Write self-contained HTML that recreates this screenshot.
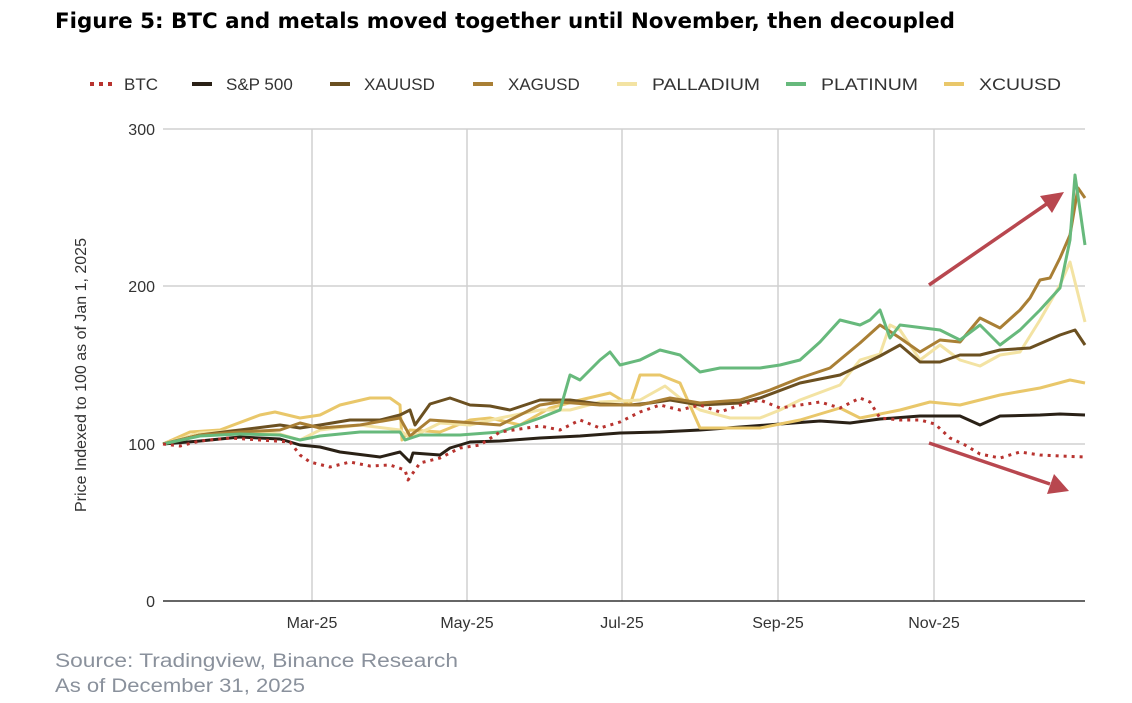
<!DOCTYPE html>
<html><head><meta charset="utf-8"><style>
body{margin:0;background:#fff;width:1132px;height:698px;overflow:hidden;font-family:"Liberation Sans",sans-serif;}
</style></head><body>
<svg width="1132" height="698" xmlns="http://www.w3.org/2000/svg" font-family="Liberation Sans, sans-serif">
<text x="55" y="28" font-size="21" font-weight="bold" fill="#000" font-family="DejaVu Sans, sans-serif" textLength="900" lengthAdjust="spacingAndGlyphs">Figure 5: BTC and metals moved together until November, then decoupled</text>
<g font-size="17" fill="#333">
<line x1="90" y1="84" x2="112" y2="84" stroke="#b8332f" stroke-width="4" stroke-dasharray="4,5"/><text x="124" y="90">BTC</text>
<line x1="192" y1="84" x2="212" y2="84" stroke="#2a2116" stroke-width="4"/><text x="226" y="90">S&amp;P 500</text>
<line x1="330" y1="84" x2="350" y2="84" stroke="#6b5021" stroke-width="4"/><text x="364" y="90">XAUUSD</text>
<line x1="473" y1="84" x2="493" y2="84" stroke="#a97f35" stroke-width="4"/><text x="508" y="90">XAGUSD</text>
<line x1="617" y1="84" x2="637" y2="84" stroke="#f3e3a3" stroke-width="4"/><text x="652" y="90" textLength="108" lengthAdjust="spacingAndGlyphs">PALLADIUM</text>
<line x1="786" y1="84" x2="806" y2="84" stroke="#67b97c" stroke-width="4"/><text x="821" y="90" textLength="97" lengthAdjust="spacingAndGlyphs">PLATINUM</text>
<line x1="944" y1="84" x2="964" y2="84" stroke="#e9c76a" stroke-width="4"/><text x="979" y="90" textLength="82" lengthAdjust="spacingAndGlyphs">XCUUSD</text>
</g>
<g stroke="#d0d0d0" stroke-width="1.5">
<line x1="163" y1="129" x2="1085" y2="129"/><line x1="163" y1="286" x2="1085" y2="286"/><line x1="163" y1="444" x2="1085" y2="444"/>
<line x1="312" y1="129" x2="312" y2="601"/><line x1="467" y1="129" x2="467" y2="601"/><line x1="622" y1="129" x2="622" y2="601"/><line x1="778" y1="129" x2="778" y2="601"/><line x1="934" y1="129" x2="934" y2="601"/>
</g>
<line x1="163" y1="601" x2="1085" y2="601" stroke="#333" stroke-width="1.5"/>
<g font-size="16" fill="#333" text-anchor="end">
<text x="155" y="135">300</text><text x="155" y="292">200</text><text x="155" y="450">100</text><text x="155" y="607">0</text>
</g>
<g font-size="16" fill="#333" text-anchor="middle">
<text x="312" y="628">Mar-25</text><text x="467" y="628">May-25</text><text x="622" y="628">Jul-25</text><text x="778" y="628">Sep-25</text><text x="934" y="628">Nov-25</text>
</g>
<text transform="translate(86,375) rotate(-90)" font-size="16" fill="#333" text-anchor="middle">Price Indexed to 100 as of Jan 1, 2025</text>
<g fill="none" stroke-width="3" stroke-linejoin="round">
<polyline stroke="#2a2116" points="163,444 200,441 240,437 280,439 300,445 320,447 340,452 380,457 400,452 410,462 413,453 440,455 450,448 470,442 500,441 540,438 580,436 620,433 660,432 700,430 740,427 780,424 820,421 850,423 880,419 920,416 960,416 980,425 1000,416 1040,415 1060,414 1085,415"/>
<polyline stroke="#e9c76a" points="163,444 190,432 220,430 260,415 275,412 300,418 320,415 340,405 370,398 390,398 400,405 402,440 410,430 440,432 470,420 490,418 520,425 550,408 580,400 610,393 630,405 640,375 660,375 680,383 700,428 720,428 760,428 800,420 840,408 860,418 900,410 930,402 960,405 1000,395 1040,388 1070,380 1085,383"/>
<polyline stroke="#f3e3a3" points="163,444 200,433 240,430 280,434 300,440 320,430 360,425 400,430 410,438 440,423 470,425 500,418 540,410 570,410 600,402 640,400 665,386 680,398 700,410 730,418 760,418 780,410 800,400 840,385 860,360 880,354 890,325 900,330 920,360 940,345 960,360 980,366 1000,355 1020,352 1040,320 1060,285 1070,262 1085,322"/>
<polyline stroke="#6b5021" points="163,444 200,435 240,430 280,425 300,428 320,425 350,420 380,420 400,415 410,410 415,425 430,404 450,398 470,405 490,406 510,410 540,400 570,400 600,404 630,405 650,403 670,400 700,405 740,403 760,398 800,383 840,375 880,356 900,345 920,362 940,362 960,355 980,355 1000,350 1030,348 1060,335 1075,330 1085,345"/>
<polyline stroke="#a97f35" points="163,444 200,435 240,432 280,430 300,423 320,428 360,425 400,418 410,436 430,420 460,422 500,425 540,405 560,402 600,405 640,405 670,398 700,403 740,400 770,390 800,378 830,368 860,343 880,325 900,338 920,352 940,340 960,342 980,318 1000,328 1020,310 1030,298 1040,280 1050,278 1060,258 1070,235 1078,188 1085,198"/>
<polyline stroke="#67b97c" points="163,444 200,436 240,434 280,435 300,440 320,436 360,432 400,432 405,440 420,435 460,435 500,432 520,425 540,418 560,410 570,375 580,380 600,360 610,352 620,365 640,360 660,350 680,355 700,372 720,368 760,368 780,365 800,360 820,342 840,320 860,325 870,320 880,310 890,338 900,325 940,330 960,340 980,325 1000,345 1020,330 1040,310 1060,288 1070,240 1075,175 1080,210 1085,245"/>
<polyline stroke="#b8332f" stroke-dasharray="3,5" points="163,444 180,446 200,441 230,438 260,440 290,442 300,455 310,462 330,467 350,462 370,466 390,465 405,470 408,480 420,463 440,458 460,448 480,445 500,432 520,429 540,426 560,430 580,420 600,428 620,422 640,412 660,405 680,410 700,405 720,412 740,405 760,400 780,408 800,405 820,402 840,408 860,398 870,402 880,418 900,420 920,420 935,424 950,438 965,445 980,454 1000,458 1020,452 1040,455 1060,456 1085,457"/>
</g>
<g stroke="#b8474f" stroke-width="3.5" fill="#b8474f">
<line x1="929" y1="285" x2="1048" y2="203"/><polygon points="1064,192 1040,196 1052,213" stroke="none"/>
<line x1="929" y1="443" x2="1050" y2="484"/><polygon points="1069,491 1054,474 1047,494" stroke="none"/>
</g>
<text x="55" y="667" font-size="19" fill="#8a919c" textLength="403" lengthAdjust="spacingAndGlyphs">Source: Tradingview, Binance Research</text>
<text x="55" y="692" font-size="19" fill="#8a919c" textLength="250" lengthAdjust="spacingAndGlyphs">As of December 31, 2025</text>
</svg>
</body></html>
